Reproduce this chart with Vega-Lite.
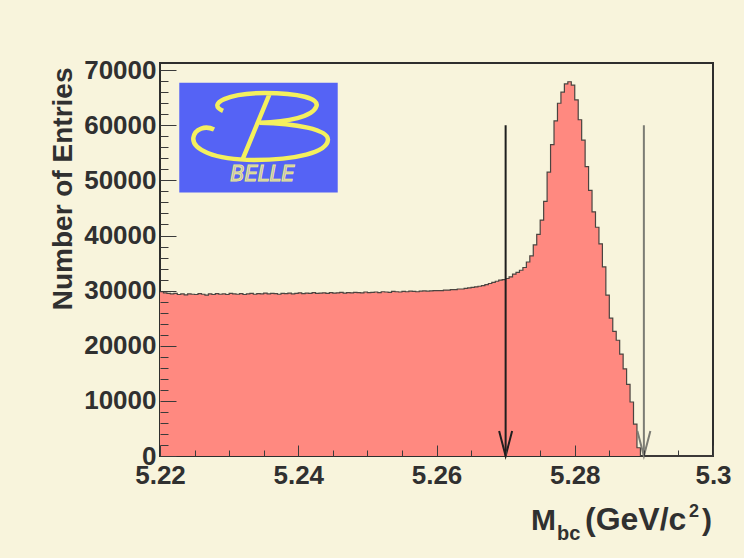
{
  "$schema": "https://vega.github.io/schema/vega-lite/v6.json",
  "width": 553,
  "height": 393,
  "autosize": {"type": "none"},
  "padding": {"left": 160, "top": 63, "right": 31, "bottom": 102},
  "background": "#f8f4dc",
  "config": {
    "font": "Liberation Sans",
    "view": {"stroke": "#2e2e2e", "strokeWidth": 2, "fill": "#f8f4dc"}
  },
  "datasets": {
    "hist": [
      {"m": 5.2200, "n": 29800}, {"m": 5.2205, "n": 29600}, {"m": 5.2210, "n": 29500}, {"m": 5.2215, "n": 29400},
      {"m": 5.2220, "n": 29500}, {"m": 5.2225, "n": 29300}, {"m": 5.2230, "n": 29400}, {"m": 5.2235, "n": 29250},
      {"m": 5.2240, "n": 29400}, {"m": 5.2245, "n": 29350}, {"m": 5.2250, "n": 29300}, {"m": 5.2255, "n": 29450},
      {"m": 5.2260, "n": 29350}, {"m": 5.2265, "n": 29200}, {"m": 5.2270, "n": 29400}, {"m": 5.2275, "n": 29300},
      {"m": 5.2280, "n": 29450}, {"m": 5.2285, "n": 29350}, {"m": 5.2290, "n": 29400}, {"m": 5.2295, "n": 29300},
      {"m": 5.2300, "n": 29500}, {"m": 5.2305, "n": 29400}, {"m": 5.2310, "n": 29350}, {"m": 5.2315, "n": 29450},
      {"m": 5.2320, "n": 29300}, {"m": 5.2325, "n": 29400}, {"m": 5.2330, "n": 29500}, {"m": 5.2335, "n": 29350},
      {"m": 5.2340, "n": 29450}, {"m": 5.2345, "n": 29400}, {"m": 5.2350, "n": 29550}, {"m": 5.2355, "n": 29400},
      {"m": 5.2360, "n": 29500}, {"m": 5.2365, "n": 29450}, {"m": 5.2370, "n": 29350}, {"m": 5.2375, "n": 29500},
      {"m": 5.2380, "n": 29450}, {"m": 5.2385, "n": 29550}, {"m": 5.2390, "n": 29400}, {"m": 5.2395, "n": 29500},
      {"m": 5.2400, "n": 29600}, {"m": 5.2405, "n": 29450}, {"m": 5.2410, "n": 29550}, {"m": 5.2415, "n": 29500},
      {"m": 5.2420, "n": 29650}, {"m": 5.2425, "n": 29500}, {"m": 5.2430, "n": 29550}, {"m": 5.2435, "n": 29600},
      {"m": 5.2440, "n": 29500}, {"m": 5.2445, "n": 29650}, {"m": 5.2450, "n": 29550}, {"m": 5.2455, "n": 29600},
      {"m": 5.2460, "n": 29700}, {"m": 5.2465, "n": 29550}, {"m": 5.2470, "n": 29650}, {"m": 5.2475, "n": 29600},
      {"m": 5.2480, "n": 29700}, {"m": 5.2485, "n": 29650}, {"m": 5.2490, "n": 29600}, {"m": 5.2495, "n": 29750},
      {"m": 5.2500, "n": 29650}, {"m": 5.2505, "n": 29700}, {"m": 5.2510, "n": 29750}, {"m": 5.2515, "n": 29650},
      {"m": 5.2520, "n": 29800}, {"m": 5.2525, "n": 29750}, {"m": 5.2530, "n": 29700}, {"m": 5.2535, "n": 29850},
      {"m": 5.2540, "n": 29800}, {"m": 5.2545, "n": 29750}, {"m": 5.2550, "n": 29850}, {"m": 5.2555, "n": 29800},
      {"m": 5.2560, "n": 29900}, {"m": 5.2565, "n": 29850}, {"m": 5.2570, "n": 29800}, {"m": 5.2575, "n": 29900},
      {"m": 5.2580, "n": 29950}, {"m": 5.2585, "n": 29900}, {"m": 5.2590, "n": 29950}, {"m": 5.2595, "n": 30000},
      {"m": 5.2600, "n": 30000}, {"m": 5.2605, "n": 30000}, {"m": 5.2610, "n": 30100}, {"m": 5.2615, "n": 30100},
      {"m": 5.2620, "n": 30200}, {"m": 5.2625, "n": 30200}, {"m": 5.2630, "n": 30300}, {"m": 5.2635, "n": 30300},
      {"m": 5.2640, "n": 30400}, {"m": 5.2645, "n": 30500}, {"m": 5.2650, "n": 30600}, {"m": 5.2655, "n": 30700},
      {"m": 5.2660, "n": 30800}, {"m": 5.2665, "n": 30900}, {"m": 5.2670, "n": 31100}, {"m": 5.2675, "n": 31300},
      {"m": 5.2680, "n": 31500}, {"m": 5.2685, "n": 31700}, {"m": 5.2690, "n": 31900}, {"m": 5.2695, "n": 32000},
      {"m": 5.2700, "n": 32200}, {"m": 5.2705, "n": 32500}, {"m": 5.2710, "n": 33000}, {"m": 5.2715, "n": 33300},
      {"m": 5.2720, "n": 33700}, {"m": 5.2725, "n": 34200}, {"m": 5.2730, "n": 35200}, {"m": 5.2735, "n": 36300},
      {"m": 5.2740, "n": 38300}, {"m": 5.2745, "n": 40200}, {"m": 5.2750, "n": 42800}, {"m": 5.2755, "n": 46200},
      {"m": 5.2760, "n": 51500}, {"m": 5.2765, "n": 56500}, {"m": 5.2770, "n": 60800}, {"m": 5.2775, "n": 64000},
      {"m": 5.2780, "n": 66000}, {"m": 5.2785, "n": 67500}, {"m": 5.2790, "n": 67900}, {"m": 5.2795, "n": 67300},
      {"m": 5.2800, "n": 64600}, {"m": 5.2805, "n": 61000}, {"m": 5.2810, "n": 57300}, {"m": 5.2815, "n": 52500},
      {"m": 5.2820, "n": 48200}, {"m": 5.2825, "n": 44300}, {"m": 5.2830, "n": 41500}, {"m": 5.2835, "n": 38500},
      {"m": 5.2840, "n": 34300}, {"m": 5.2845, "n": 29200}, {"m": 5.2850, "n": 25000}, {"m": 5.2855, "n": 22600},
      {"m": 5.2860, "n": 21000}, {"m": 5.2865, "n": 18500}, {"m": 5.2870, "n": 15800}, {"m": 5.2875, "n": 13000},
      {"m": 5.2880, "n": 9800}, {"m": 5.2885, "n": 5800}, {"m": 5.2890, "n": 1500}, {"m": 5.2895, "n": 0},
      {"m": 5.2900, "n": 0}, {"m": 5.2905, "n": 0}, {"m": 5.2910, "n": 0}, {"m": 5.2915, "n": 0},
      {"m": 5.2920, "n": 0}, {"m": 5.2925, "n": 0}, {"m": 5.2930, "n": 0}, {"m": 5.2935, "n": 0},
      {"m": 5.2940, "n": 0}, {"m": 5.2945, "n": 0}, {"m": 5.2950, "n": 0}, {"m": 5.2955, "n": 0},
      {"m": 5.2960, "n": 0}, {"m": 5.2965, "n": 0}, {"m": 5.2970, "n": 0}, {"m": 5.2975, "n": 0},
      {"m": 5.2980, "n": 0}, {"m": 5.2985, "n": 0}, {"m": 5.2990, "n": 0}, {"m": 5.2995, "n": 0},
      {"m": 5.3000, "n": 0}
    ],
    "cuts": [
      {"m": 5.27, "top": 60000, "cut": "lower"},
      {"m": 5.29, "top": 60000, "cut": "upper"}
    ],
    "one": [{}]
  },
  "layer": [
    {
      "data": {"name": "hist"},
      "mark": {"type": "area", "interpolate": "step-after", "color": "#ff8980"},
      "encoding": {
        "x": {
          "field": "m",
          "type": "quantitative",
          "scale": {"domain": [5.22, 5.3], "nice": false, "zero": false},
          "axis": {
            "values": [5.22, 5.225, 5.23, 5.235, 5.24, 5.245, 5.25, 5.255, 5.26, 5.265, 5.27, 5.275, 5.28, 5.285, 5.29, 5.295, 5.3],
            "tickCount": 200,
            "labelExpr": "abs(datum.value * 50 - round(datum.value * 50)) < 1e-6 ? format(datum.value, '.3~f') : ''",
            "tickSize": {"condition": {"test": "abs(datum.value * 50 - round(datum.value * 50)) < 1e-6", "value": -11}, "value": -6},
            "tickColor": "#3a3a3a",
            "tickWidth": 1,
            "labelFont": "Liberation Sans",
            "labelFontWeight": "bold",
            "labelFontSize": 26,
            "labelColor": "#303030",
            "labelPadding": 17,
            "labelFlush": false,
            "labelOverlap": false,
            "domain": false,
            "grid": false,
            "zindex": 2,
            "title": null
          }
        },
        "y": {
          "field": "n",
          "type": "quantitative",
          "scale": {"domain": [0, 71300], "nice": false},
          "axis": {
            "values": [0, 2000, 4000, 6000, 8000, 10000, 12000, 14000, 16000, 18000, 20000, 22000, 24000, 26000, 28000, 30000, 32000, 34000, 36000, 38000, 40000, 42000, 44000, 46000, 48000, 50000, 52000, 54000, 56000, 58000, 60000, 62000, 64000, 66000, 68000, 70000],
            "tickCount": 200,
            "format": "d",
            "labelExpr": "datum.value % 10000 === 0 ? datum.label : ''",
            "tickSize": {"condition": {"test": "datum.value % 10000 === 0", "value": -16}, "value": -8},
            "tickColor": "#3a3a3a",
            "tickWidth": 1,
            "labelFont": "Liberation Sans",
            "labelFontWeight": "bold",
            "labelFontSize": 26,
            "labelColor": "#303030",
            "labelPadding": 20,
            "labelFlush": false,
            "labelOverlap": false,
            "domain": false,
            "grid": false,
            "zindex": 2,
            "title": "Number of Entries",
            "titleFont": "Liberation Sans",
            "titleFontWeight": "bold",
            "titleFontSize": 28,
            "titleColor": "#303030",
            "titleAngle": -90,
            "titleAlign": "right",
            "titleBaseline": "alphabetic",
            "titleX": -89,
            "titleY": 4
          }
        }
      }
    },
    {
      "data": {"name": "hist"},
      "mark": {"type": "line", "interpolate": "step-after", "color": "#4a4440", "strokeWidth": 1.2},
      "encoding": {
        "x": {"field": "m", "type": "quantitative"},
        "y": {"field": "n", "type": "quantitative"}
      }
    },
    {
      "data": {"name": "one"},
      "mark": {"type": "rect", "color": "#5563f5"},
      "encoding": {
        "x": {"datum": 5.22279},
        "x2": {"datum": 5.24571},
        "y": {"datum": 67700},
        "y2": {"datum": 47800}
      }
    },
    {
      "data": {"name": "one"},
      "mark": {
        "type": "point",
        "shape": "M -0.55 -0.22 C -0.80 -0.33 -0.45 -0.48 0.05 -0.48 C 0.55 -0.48 0.86 -0.40 0.80 -0.28 C 0.75 -0.14 0.40 -0.06 -0.02 -0.05 C 0.50 -0.04 0.98 0.05 0.97 0.20 C 0.96 0.38 0.50 0.49 -0.10 0.49 C -0.70 0.49 -1.00 0.33 -0.98 0.17 C -0.96 0.03 -0.80 -0.01 -0.68 0.05 M 0.13 -0.48 L -0.27 0.49",
        "size": 19044,
        "filled": false,
        "color": "#f4f05e",
        "strokeWidth": 4.5,
        "opacity": 1
      },
      "encoding": {
        "x": {"datum": 5.23461},
        "y": {"datum": 59850}
      }
    },
    {
      "data": {"name": "one"},
      "mark": {
        "type": "text",
        "text": "BELLE",
        "font": "DejaVu Sans",
        "fontStyle": "italic",
        "fontSize": 21,
        "align": "center",
        "baseline": "middle",
        "fill": "#b4b5d2",
        "stroke": "#ecea86",
        "strokeWidth": 1
      },
      "encoding": {
        "x": {"datum": 5.2348},
        "y": {"datum": 50900}
      }
    },
    {
      "data": {"name": "cuts"},
      "mark": {"type": "rule", "strokeWidth": 2},
      "encoding": {
        "x": {"field": "m", "type": "quantitative"},
        "y": {"field": "top", "type": "quantitative"},
        "y2": {"datum": 0},
        "color": {"field": "cut", "type": "nominal", "scale": {"domain": ["lower", "upper"], "range": ["#1e1e1e", "#7c7c74"]}, "legend": null}
      }
    },
    {
      "data": {"name": "cuts"},
      "mark": {
        "type": "point",
        "shape": "M -0.26 -1 L 0 0 L 0.26 -1",
        "size": 2500,
        "filled": false,
        "strokeWidth": 2,
        "opacity": 1
      },
      "encoding": {
        "x": {"field": "m", "type": "quantitative"},
        "y": {"datum": 0},
        "color": {"field": "cut", "type": "nominal", "scale": {"domain": ["lower", "upper"], "range": ["#1e1e1e", "#7c7c74"]}, "legend": null}
      }
    },
    {
      "data": {"name": "one"},
      "mark": {"type": "text", "text": "M", "align": "right", "baseline": "alphabetic", "dx": -157, "dy": 74, "font": "Liberation Sans", "fontWeight": "bold", "fontSize": 30, "color": "#303030"},
      "encoding": {"x": {"datum": 5.3}, "y": {"datum": 0}}
    },
    {
      "data": {"name": "one"},
      "mark": {"type": "text", "text": "bc", "align": "left", "baseline": "alphabetic", "dx": -156, "dy": 84, "font": "Liberation Sans", "fontWeight": "bold", "fontSize": 20, "color": "#303030"},
      "encoding": {"x": {"datum": 5.3}, "y": {"datum": 0}}
    },
    {
      "data": {"name": "one"},
      "mark": {"type": "text", "text": "(GeV/c", "align": "left", "baseline": "alphabetic", "dx": -128, "dy": 74, "font": "Liberation Sans", "fontWeight": "bold", "fontSize": 32, "color": "#303030"},
      "encoding": {"x": {"datum": 5.3}, "y": {"datum": 0}}
    },
    {
      "data": {"name": "one"},
      "mark": {"type": "text", "text": "2", "align": "left", "baseline": "alphabetic", "dx": -24, "dy": 61, "font": "Liberation Sans", "fontWeight": "bold", "fontSize": 18, "color": "#303030"},
      "encoding": {"x": {"datum": 5.3}, "y": {"datum": 0}}
    },
    {
      "data": {"name": "one"},
      "mark": {"type": "text", "text": ")", "align": "right", "baseline": "alphabetic", "dx": -1, "dy": 74, "font": "Liberation Sans", "fontWeight": "bold", "fontSize": 30, "color": "#303030"},
      "encoding": {"x": {"datum": 5.3}, "y": {"datum": 0}}
    }
  ]
}
